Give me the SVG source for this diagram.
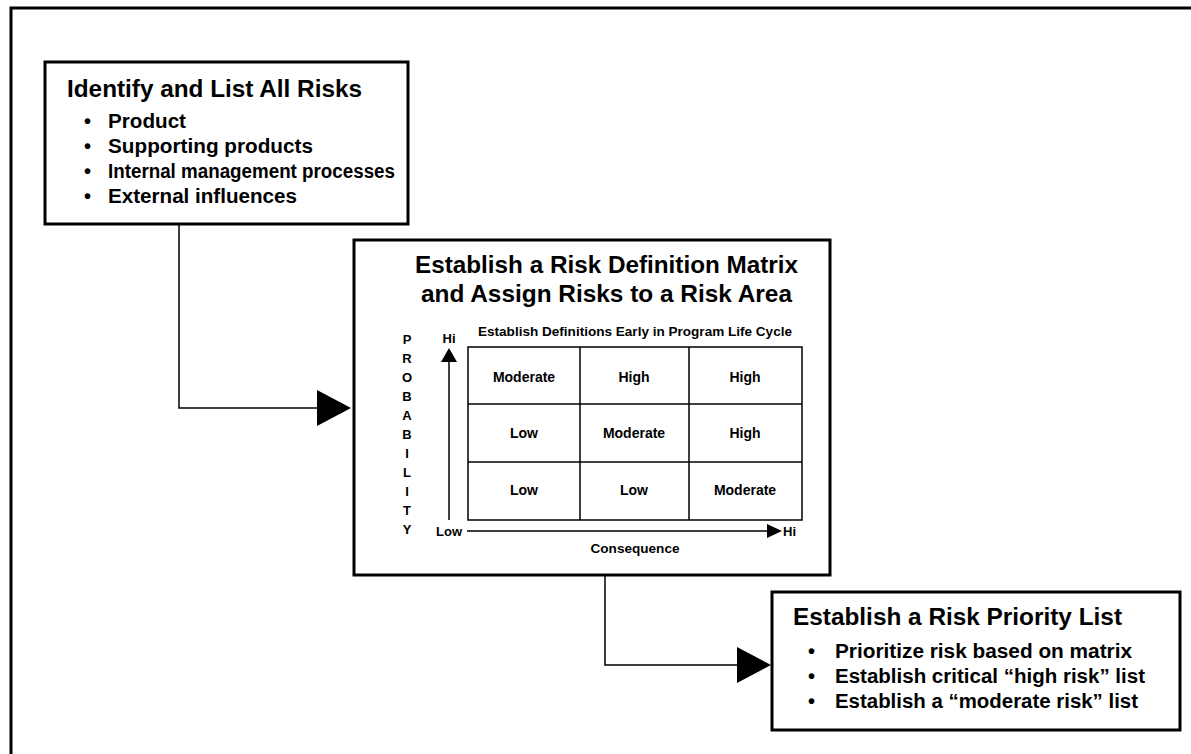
<svg xmlns="http://www.w3.org/2000/svg" width="1191" height="754" viewBox="0 0 1191 754">
<style>
text{font-family:"Liberation Sans",Arial,sans-serif;font-weight:bold;fill:#000}
.box{fill:#fff;stroke:#000;stroke-width:3}
.conn{fill:none;stroke:#000;stroke-width:1.5}
.grid{fill:none;stroke:#000;stroke-width:1.5}
.h1{font-size:23px}
.li{font-size:20px}
.cell{font-size:14px;text-anchor:middle}
.ax{font-size:13px}
</style>
<rect width="1191" height="754" fill="#fff"/>
<g id="frame"><path d="M1191 8 H11 V754" fill="none" stroke="#000" stroke-width="3"/></g>
<g id="connectors">
<path class="conn" d="M179 224 V408 H320"/>
<polygon points="317,390 351,408 317,426" fill="#000"/>
<path class="conn" d="M605 575 V665 H740"/>
<polygon points="737,647 771,665 737,683" fill="#000"/>
</g>
<g id="identify">
<rect class="box" x="45" y="62" width="363" height="162"/>
<text class="h1" x="67" y="97" textLength="295" lengthAdjust="spacingAndGlyphs">Identify and List All Risks</text>
<text class="li" x="84" y="128">•</text><text class="li" x="108" y="128" textLength="78" lengthAdjust="spacingAndGlyphs">Product</text>
<text class="li" x="84" y="153">•</text><text class="li" x="108" y="153" textLength="205" lengthAdjust="spacingAndGlyphs">Supporting products</text>
<text class="li" x="84" y="178">•</text><text class="li" x="108" y="178" textLength="287" lengthAdjust="spacingAndGlyphs">Internal management processes</text>
<text class="li" x="84" y="203">•</text><text class="li" x="108" y="203" textLength="189" lengthAdjust="spacingAndGlyphs">External influences</text>
</g>
<g id="matrix">
<rect class="box" x="354" y="240" width="476" height="335"/>
<text x="415" y="273" font-size="24" textLength="383" lengthAdjust="spacingAndGlyphs">Establish a Risk Definition Matrix</text>
<text x="421" y="302" font-size="24" textLength="371" lengthAdjust="spacingAndGlyphs">and Assign Risks to a Risk Area</text>
<text class="ax" x="478" y="336" textLength="314" lengthAdjust="spacingAndGlyphs">Establish Definitions Early in Program Life Cycle</text>
<rect class="grid" x="468" y="347" width="334" height="173"/>
<path class="grid" d="M468 404 H802 M468 462 H802 M580 347 V520 M689 347 V520"/>
<text class="cell" x="524" y="382">Moderate</text>
<text class="cell" x="634" y="382">High</text>
<text class="cell" x="745" y="382">High</text>
<text class="cell" x="524" y="438">Low</text>
<text class="cell" x="634" y="438">Moderate</text>
<text class="cell" x="745" y="438">High</text>
<text class="cell" x="524" y="495">Low</text>
<text class="cell" x="634" y="495">Low</text>
<text class="cell" x="745" y="495">Moderate</text>
<path d="M449 520 V360" stroke="#000" stroke-width="1.5"/>
<polygon points="441,362 449,348 457,362" fill="#000"/>
<text class="ax" x="449" y="343" text-anchor="middle">Hi</text>
<path d="M467 531 H770" stroke="#000" stroke-width="1.5"/>
<polygon points="767,524 782,531 767,538" fill="#000"/>
<text class="ax" x="783" y="536">Hi</text>
<text class="ax" x="436" y="536">Low</text>
<text class="ax" x="635" y="553" text-anchor="middle" textLength="89" lengthAdjust="spacingAndGlyphs">Consequence</text>
<g text-anchor="middle">
<text class="ax" x="407" y="344">P</text>
<text class="ax" x="407" y="363">R</text>
<text class="ax" x="407" y="382">O</text>
<text class="ax" x="407" y="401">B</text>
<text class="ax" x="407" y="420">A</text>
<text class="ax" x="407" y="439">B</text>
<text class="ax" x="407" y="458">I</text>
<text class="ax" x="407" y="477">L</text>
<text class="ax" x="407" y="496">I</text>
<text class="ax" x="407" y="515">T</text>
<text class="ax" x="407" y="534">Y</text>
</g>
</g>
<g id="priority">
<rect class="box" x="772" y="592" width="408" height="138"/>
<text class="h1" x="793" y="625" textLength="329" lengthAdjust="spacingAndGlyphs">Establish a Risk Priority List</text>
<text class="li" x="808" y="658">•</text><text class="li" x="835" y="658" textLength="297" lengthAdjust="spacingAndGlyphs">Prioritize risk based on matrix</text>
<text class="li" x="808" y="683">•</text><text class="li" x="835" y="683" textLength="310" lengthAdjust="spacingAndGlyphs">Establish critical “high risk” list</text>
<text class="li" x="808" y="708">•</text><text class="li" x="835" y="708" textLength="303" lengthAdjust="spacingAndGlyphs">Establish a “moderate risk” list</text>
</g>
</svg>
